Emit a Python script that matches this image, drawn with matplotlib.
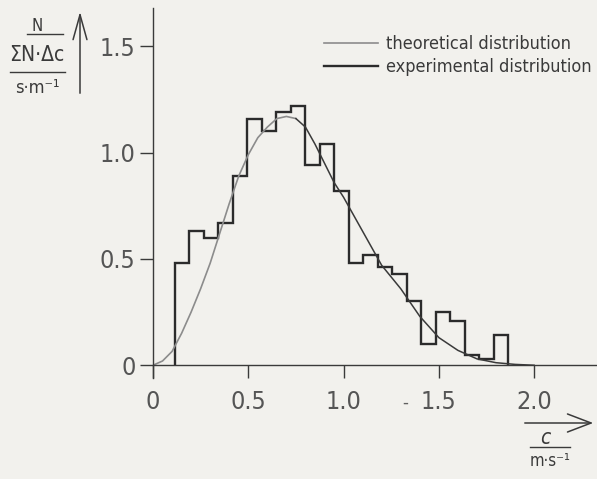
import numpy as np
import matplotlib
matplotlib.use("Agg")
import matplotlib.pyplot as plt
from matplotlib.lines import Line2D

# --- data ---
# experimental histogram: bin edges (m/s) and heights
bin_edges = [0.115, 0.191, 0.267, 0.343, 0.419, 0.495, 0.571, 0.647, 0.723, 0.799,
             0.875, 0.951, 1.027, 1.103, 1.179, 1.255, 1.331, 1.407, 1.483, 1.559,
             1.635, 1.711, 1.787, 1.863]
exp_heights = [0.48, 0.63, 0.60, 0.67, 0.89, 1.16, 1.10, 1.19, 1.22, 0.94,
               1.04, 0.82, 0.48, 0.52, 0.46, 0.43, 0.30, 0.10, 0.25, 0.21,
               0.05, 0.03, 0.14]

# theoretical curve, points
theo_c = [0, 0.05, 0.1, 0.15, 0.2, 0.25, 0.3, 0.35, 0.4, 0.45, 0.5, 0.55, 0.6, 0.65,
          0.7, 0.75, 0.8, 0.85, 0.9, 0.95, 1.0, 1.1, 1.2, 1.3, 1.4, 1.5, 1.6, 1.7,
          1.8, 1.9, 2.0]
theo_val = [0, 0.02, 0.065, 0.15, 0.25, 0.36, 0.48, 0.62, 0.76, 0.89, 0.99, 1.07, 1.12, 1.16,
            1.17, 1.16, 1.12, 1.04, 0.95, 0.86, 0.79, 0.63, 0.47, 0.36, 0.23, 0.13, 0.07, 0.03,
            0.012, 0.004, 0.0]

xticks = [0, 0.5, 1.0, 1.5, 2.0]
xtick_labels = ["0", "0.5", "1.0", "1.5", "2.0"]
yticks = [0, 0.5, 1.0, 1.5]
ytick_labels = ["0", "0.5", "1.0", "1.5"]

FONT = ["DejaVu Sans"]
STRETCH = "condensed"
BG = "#f2f1ed"
INK = "#2b2b2b"
GREY = "#8c8c8c"
W, H = 597, 479

fig = plt.figure(figsize=(W / 100, H / 100), dpi=100, facecolor=BG)
ax = fig.add_axes([153 / W, 1 - 378 / H, (W - 153) / W, (378 - 8) / H])
ax.set_facecolor(BG)

# theoretical curve: grey on the rising side, darker after the peak (as printed)
split = theo_c.index(0.75)
ax.plot(theo_c[:split + 1], theo_val[:split + 1], color=GREY, lw=1.2)
ax.plot(theo_c[split:], theo_val[split:], color="#3a3a3a", lw=1.1)

# experimental histogram
ax.stairs(exp_heights, bin_edges, baseline=0, fill=False, color=INK, lw=1.7)

ax.set_xlim(0, 2.33)
ax.set_ylim(-0.06, 1.68)
for s in ["top", "right"]:
    ax.spines[s].set_visible(False)
ax.spines["left"].set_position(("data", 0))
ax.spines["bottom"].set_position(("data", 0))
for s in ["left", "bottom"]:
    ax.spines[s].set_color("#3a3a3a")
    ax.spines[s].set_linewidth(1.0)

ax.set_xticks(xticks)
ax.set_xticklabels(xtick_labels, family=FONT, stretch=STRETCH, fontsize=18, color="#555555")
ax.set_yticks(yticks)
ax.set_yticklabels(ytick_labels, family=FONT, stretch=STRETCH, fontsize=18, color="#555555")
ax.tick_params(axis="x", direction="out", length=9, width=1.0, pad=9, color="#3a3a3a")
ax.tick_params(axis="y", direction="out", length=9.5, width=1.0, pad=3, color="#3a3a3a")

# stray dash printed before 1.5
fig.text(405 / W, 1 - 403 / H, "-", family=FONT, fontsize=12, color="#606060",
         ha="center", va="center")

# legend
handles = [Line2D([], [], color=GREY, lw=1.2), Line2D([], [], color=INK, lw=1.7)]
ax.legend(handles, ["theoretical distribution", "experimental distribution"],
          loc="upper left", bbox_to_anchor=(324 / W, 1 - 35 / H), bbox_transform=fig.transFigure,
          frameon=False, prop={"family": FONT, "stretch": STRETCH, "size": 13}, handlelength=3.0,
          handletextpad=0.45, labelspacing=0.3, borderpad=0, borderaxespad=0,
          labelcolor="#3a3a3a")

# y axis label as a stacked fraction
def px(x, y):
    return x / W, 1 - y / H

fig.text(*px(37, 26), "N", family=FONT, stretch=STRETCH, fontsize=12, color="#3a3a3a", ha="center", va="center")
fig.text(*px(37, 55), "ΣN·Δc", family=FONT, stretch=STRETCH, fontsize=15, color="#3a3a3a", ha="center", va="center")
fig.text(*px(37, 88), "s·m⁻¹", family=FONT, stretch=STRETCH, fontsize=13, color="#3a3a3a", ha="center", va="center")
fig.add_artist(Line2D([27 / W, 63 / W], [1 - 34 / H, 1 - 34 / H], color="#3a3a3a", lw=1.0))
fig.add_artist(Line2D([10 / W, 65 / W], [1 - 72 / H, 1 - 72 / H], color="#3a3a3a", lw=1.0))

# x axis label
fig.text(*px(545, 438), "c", family=FONT, stretch=STRETCH, fontsize=15, style="italic", color="#3a3a3a",
         ha="center", va="center")
fig.text(*px(550, 461), "m·s⁻¹", family=FONT, stretch=STRETCH, fontsize=12, color="#3a3a3a", ha="center", va="center")
fig.add_artist(Line2D([530 / W, 570 / W], [1 - 447 / H, 1 - 447 / H], color="#3a3a3a", lw=1.0))

# axis arrows
ax.annotate("", xy=px(80, 9), xytext=px(80, 96), xycoords="figure fraction",
            arrowprops=dict(arrowstyle="->,head_length=1.8,head_width=0.5", lw=1.1, color="#3a3a3a"))
ax.annotate("", xy=px(596, 423), xytext=px(522, 423), xycoords="figure fraction",
            arrowprops=dict(arrowstyle="->,head_length=1.7,head_width=0.65", lw=1.1, color="#3a3a3a"))

fig.savefig("out.png", dpi=100, facecolor=BG)
